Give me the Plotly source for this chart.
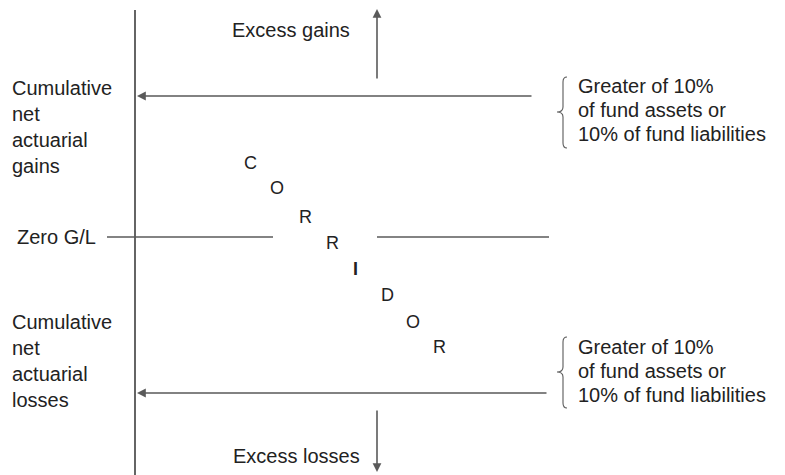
import plotly.graph_objects as go

# ---- texts ----
gains_label = ["Cumulative", "net", "actuarial", "gains"]
losses_label = ["Cumulative", "net", "actuarial", "losses"]
brace_text = ["Greater of 10%", "of fund assets or", "10% of fund liabilities"]
corridor = ["C", "O", "R", "R", "I", "D", "O", "R"]
zero_label = "Zero G/L"
excess_gains = "Excess gains"
excess_losses = "Excess losses"

# ---- layout positions (page-pixel diagram coordinates) ----
corr_x = [250, 277, 305, 332, 355, 387, 413, 439]
corr_y = [163, 188, 217, 243, 269, 295, 322, 347]
gains_y = [88, 114, 140, 166]
losses_y = [322, 348, 374, 400]
brace_up_y = [86, 110, 134]
brace_lo_y = [347, 371, 395]

W, H = 785, 475
OFF = 8  # default page body margin of the html page
FONT = "Arial, Liberation Sans, Helvetica, sans-serif"
TXT = "#222222"
GRAY = "#5a5a5a"

fig = go.Figure()
fig.add_trace(go.Scatter(x=[OFF, W], y=[OFF, H], mode="markers",
                         marker=dict(opacity=0), hoverinfo="skip", showlegend=False))

shapes = []
# vertical axis
shapes.append(dict(type="line", x0=135, x1=135, y0=10, y1=476,
                   line=dict(color="#111111", width=1.3)))
# zero G/L segments
shapes.append(dict(type="line", x0=107, x1=273, y0=237, y1=237,
                   line=dict(color=GRAY, width=1.5)))
shapes.append(dict(type="line", x0=377, x1=549, y0=237, y1=237,
                   line=dict(color=GRAY, width=1.5)))


def brace(x, y0, y1, ytip):
    xb = x + 3
    xt = x - 3
    xe = x + 7
    return (f"M {xe},{y0} Q {xb},{y0} {xb},{y0+5} L {xb},{ytip-5} "
            f"Q {xb},{ytip} {xt},{ytip} Q {xb},{ytip} {xb},{ytip+5} "
            f"L {xb},{y1-5} Q {xb},{y1} {xe},{y1}")


shapes.append(dict(type="path", path=brace(560, 77, 148, 112),
                   line=dict(color=GRAY, width=1.1)))
shapes.append(dict(type="path", path=brace(560, 337, 408, 372),
                   line=dict(color=GRAY, width=1.1)))

ann = []


def arrow(x, y, ax, ay):
    ann.append(dict(x=x, y=y, ax=ax, ay=ay, xref="x", yref="y", axref="x", ayref="y",
                    text="", showarrow=True, arrowhead=2, arrowsize=1.1,
                    arrowwidth=1.6, arrowcolor=GRAY, standoff=0, startstandoff=0))


arrow(137, 96, 533, 96)
arrow(137, 393, 548, 393)
arrow(377, 9, 377, 80)
arrow(377, 472, 377, 409)


def text(x, y, s, anchor="left", size=20, bold=False):
    ann.append(dict(x=x, y=y, xref="x", yref="y", text=(f"<b>{s}</b>" if bold else s),
                    showarrow=False, xanchor=anchor, yanchor="middle",
                    font=dict(family=FONT, size=size, color=TXT)))


for s, y in zip(gains_label, gains_y):
    text(10, y, s)
for s, y in zip(losses_label, losses_y):
    text(10, y, s)
for s, y in zip(brace_text, brace_up_y):
    text(576, y, s)
for s, y in zip(brace_text, brace_lo_y):
    text(576, y, s)
for s, x, y in zip(corridor, corr_x, corr_y):
    text(x, y, s, anchor="center", size=18, bold=(s == "I"))
text(98, 237, zero_label, anchor="right")
text(291, 30, excess_gains, anchor="center")
text(296, 456, excess_losses, anchor="center")

fig.update_layout(
    width=W - OFF, height=H - OFF, margin=dict(l=0, r=0, t=0, b=0),
    paper_bgcolor="white", plot_bgcolor="white",
    xaxis=dict(range=[OFF, W], visible=False, fixedrange=True),
    yaxis=dict(range=[H, OFF], visible=False, fixedrange=True),
    shapes=shapes, annotations=ann, showlegend=False,
)
fig.write_html("out.html")
